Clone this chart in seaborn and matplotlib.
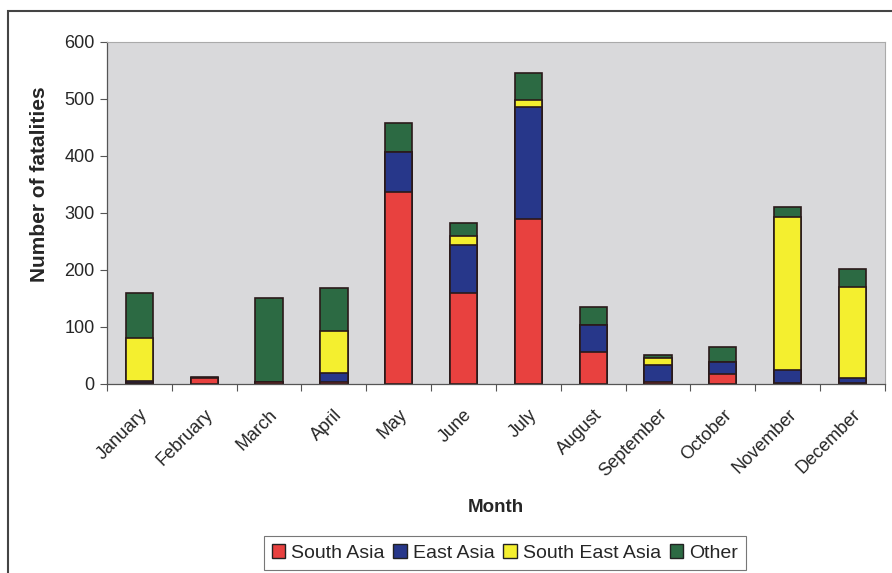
import numpy as np
import pandas as pd
import matplotlib.pyplot as plt
import matplotlib.patches as mpatches
from matplotlib.ticker import FixedLocator
import seaborn as sns

sns.set_theme(style="white")
plt.rcParams['font.family'] = ['Liberation Sans', 'DejaVu Sans']

months = ["January", "February", "March", "April", "May", "June",
          "July", "August", "September", "October", "November", "December"]
south_asia = [2, 10, 3, 3, 337, 160, 290, 56, 4, 18, 2, 2]
east_asia = [3, 0, 0, 17, 70, 84, 196, 48, 30, 21, 23, 8]
south_east_asia = [75, 0, 0, 73, 0, 16, 12, 0, 12, 0, 268, 160]
other = [80, 2, 148, 76, 51, 22, 48, 31, 5, 26, 17, 32]

series = ["South Asia", "East Asia", "South East Asia", "Other"]
colors = {"South Asia": "#e8413f", "East Asia": "#27378a",
          "South East Asia": "#f4ef2f", "Other": "#2c6a43"}

df = pd.DataFrame({"Month": months, "South Asia": south_asia, "East Asia": east_asia,
                   "South East Asia": south_east_asia, "Other": other})
cum = df[series].cumsum(axis=1)

fig = plt.figure(figsize=(8.92, 5.73), dpi=100)
ax = fig.add_axes([0.12, 0.33, 0.872, 0.597])
ax.set_facecolor("#d9d9db")

# draw cumulative bars from the top layer down so each segment shows
for name in reversed(series):
    sns.barplot(x=df["Month"], y=cum[name], color=colors[name], width=0.42,
                edgecolor="#2a1a1a", linewidth=1.2, saturation=1, ax=ax)

ax.set_ylim(0, 600)
ax.set_xlim(-0.5, 11.5)
ax.set_yticks(range(0, 601, 100))
ax.tick_params(axis='y', labelsize=13, length=5, width=0.8, color="#555555", pad=4, left=True)
ax.set_xticks(range(12))
ax.set_xticklabels(months, rotation=45, ha="right", rotation_mode="anchor", fontsize=13)
ax.tick_params(axis='x', length=0, pad=16)
ax.xaxis.set_minor_locator(FixedLocator(np.arange(-0.5, 12, 1)))
ax.tick_params(axis='x', which='minor', bottom=True, length=5, width=0.8, color="#555555")
for side in ["top", "right"]:
    ax.spines[side].set_color("#aaaaaa")
    ax.spines[side].set_linewidth(0.8)
for side in ["left", "bottom"]:
    ax.spines[side].set_color("#555555")
    ax.spines[side].set_linewidth(0.9)

ax.set_xlabel("Month", fontsize=13.5, fontweight="bold")
ax.set_ylabel("Number of fatalities", fontsize=15, fontweight="bold")
ax.xaxis.set_label_coords(0.5, -0.335)
ax.yaxis.set_label_coords(-0.074, 0.585)

handles = [mpatches.Patch(facecolor=colors[s], edgecolor="#222222", label=s) for s in series]
leg = fig.legend(handles=handles, loc="center", bbox_to_anchor=(0.566, 0.035), ncol=4,
                 fontsize=14, frameon=True, fancybox=False, handlelength=0.7,
                 handleheight=0.7, handletextpad=0.3, columnspacing=0.45,
                 borderpad=0.4, borderaxespad=0)
leg.get_frame().set_edgecolor("#555555")
leg.get_frame().set_linewidth(0.8)

# outer chart frame
fig.patches.append(mpatches.Rectangle((0.009, -0.05), 1.1, 1.03, transform=fig.transFigure,
                                      fill=False, edgecolor="#444444", linewidth=1.5))

fig.savefig("out.png", dpi=100)
